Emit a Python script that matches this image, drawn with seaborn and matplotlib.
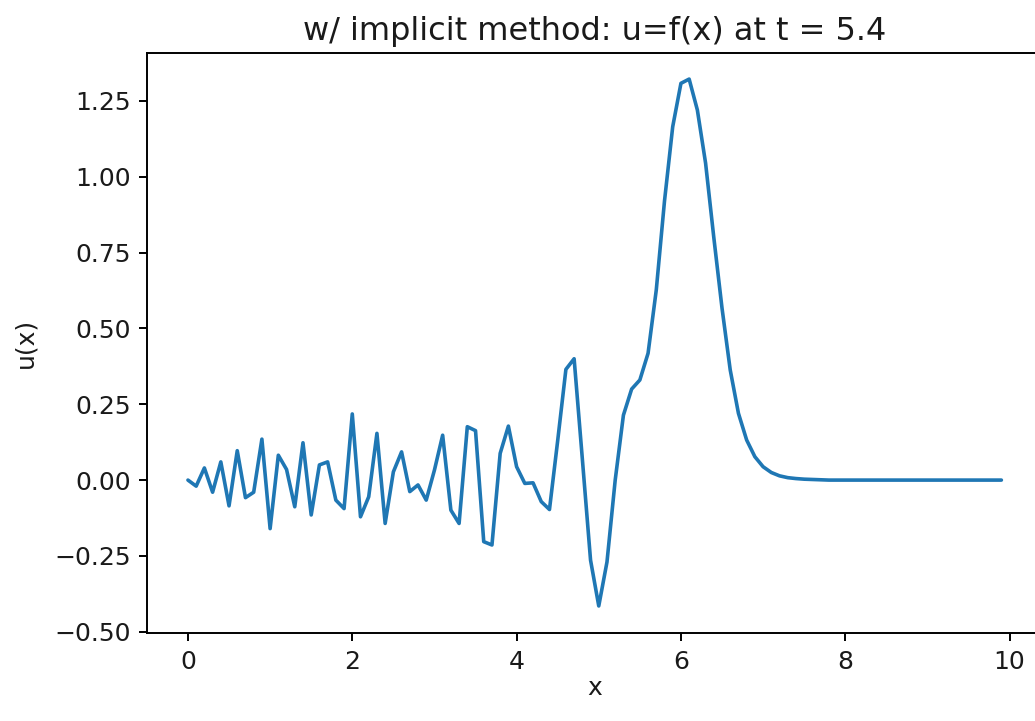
import numpy as np
import pandas as pd
import matplotlib
matplotlib.use("Agg")
import matplotlib.pyplot as plt
import seaborn as sns

# grid x = 0.0, 0.1, ..., 9.9
x_start = 0.0
x_step = 0.1

# u(x) at t = 5.4
u_wiggle = [0.0, -0.02, 0.04, -0.04, 0.06, -0.085, 0.097, -0.058, -0.04, 0.135,
            -0.16, 0.082, 0.035, -0.088, 0.123, -0.115, 0.05, 0.06, -0.066, -0.094,
            0.218, -0.121, -0.055, 0.154, -0.143, 0.027, 0.093, -0.038, -0.016, -0.066,
            0.033, 0.148, -0.099, -0.143, 0.176, 0.163, -0.203, -0.214, 0.088, 0.178,
            0.044, -0.011, -0.009, -0.071, -0.097, 0.13]
u_pulse = [0.365, 0.40, 0.07, -0.264, -0.415, -0.27, 0.0, 0.214, 0.30, 0.33,
           0.418, 0.627, 0.92, 1.165, 1.308, 1.322, 1.22, 1.045, 0.80, 0.567,
           0.363, 0.22, 0.132, 0.077, 0.044, 0.025, 0.014, 0.008, 0.005, 0.003,
           0.002, 0.001]
u_tail = [0.0] * 22

u = u_wiggle + u_pulse + u_tail
x = [round(x_start + x_step * i, 1) for i in range(len(u))]
df = pd.DataFrame({"x": x, "u": u})

sns.set_style("ticks")
plt.rcParams["font.family"] = ["DejaVu Sans"]

fig = plt.figure(figsize=(10.35, 7.21), dpi=100)
# axes run past the right edge, like the cropped notebook output
ax = fig.add_axes([0.1423, 0.1221, 0.8645, 0.8044])

sns.lineplot(data=df, x="x", y="u", ax=ax, color="#1f77b4", linewidth=2.6)

ax.set_xlim(-0.495, 10.395)
ax.set_ylim(-0.504, 1.408)
ax.set_xticks([0, 2, 4, 6, 8, 10])
ax.set_yticks([-0.5, -0.25, 0.0, 0.25, 0.5, 0.75, 1.0, 1.25])
ax.set_yticklabels(["\u22120.50", "\u22120.25", "0.00", "0.25", "0.50", "0.75", "1.00", "1.25"])

for s in ax.spines.values():
    s.set_linewidth(1.4)
    s.set_color("black")
ax.tick_params(labelsize=18, length=6, width=1.4, color="black", labelcolor="#1a1a1a", pad=6)

ax.set_xlabel("x", fontsize=18, color="#1a1a1a", labelpad=2)
ax.set_ylabel("u(x)", fontsize=18, color="#1a1a1a", labelpad=12)
ax.set_title("w/ implicit method: u=f(x) at t = 5.4", fontsize=23, color="#1a1a1a", pad=9)

fig.savefig("out.png", dpi=100)
